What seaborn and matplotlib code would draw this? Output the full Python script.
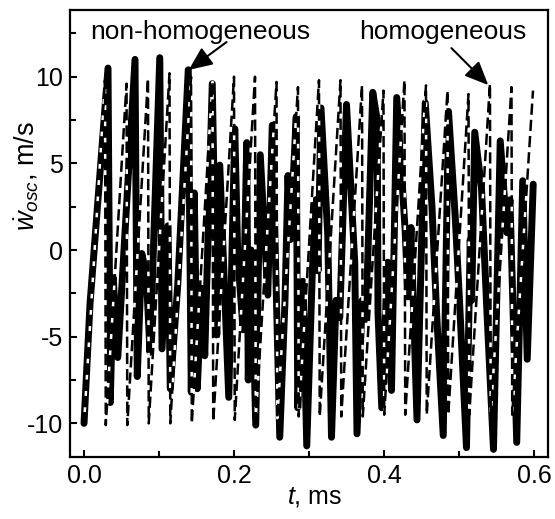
import numpy as np
import pandas as pd
import seaborn as sns
import matplotlib
matplotlib.use("Agg")
import matplotlib.pyplot as plt

# ---------------- data ----------------
# non-homogeneous (solid, thick)
nonhom_t = [0.000, 0.008, 0.032, 0.035, 0.039, 0.045, 0.068, 0.071, 0.077, 0.083,
            0.088, 0.101, 0.104, 0.112, 0.115, 0.125, 0.139, 0.143, 0.147, 0.151,
            0.157, 0.161, 0.171, 0.177, 0.181, 0.193, 0.201, 0.205, 0.212, 0.217,
            0.219, 0.223, 0.229, 0.235, 0.245, 0.251, 0.261, 0.268, 0.272, 0.275,
            0.283, 0.285, 0.292, 0.297, 0.305, 0.309, 0.312, 0.316, 0.325, 0.330,
            0.336, 0.341, 0.350, 0.361, 0.364, 0.371, 0.376, 0.385, 0.391, 0.392,
            0.397, 0.405, 0.410, 0.417, 0.428, 0.432, 0.436, 0.444, 0.455, 0.464,
            0.470, 0.479, 0.486, 0.495, 0.501, 0.510, 0.515, 0.517, 0.521, 0.530,
            0.537, 0.546, 0.555, 0.564, 0.568, 0.577, 0.585, 0.591, 0.599]
nonhom_v = [-10.0, -3.1, 10.5, -8.8, -1.6, -6.2, 11.0, -7.3, -0.2, -1.4,
            -5.9, 11.1, -5.7, 1.4, -8.0, -2.0, 10.4, -8.2, 3.3, -8.0,
            -2.2, -6.1, 9.6, -4.9, 4.9, -8.5, 7.0, -0.3, -4.6, 6.2,
            -7.5, 0.0, -10.1, 5.5, -2.6, 7.2, -10.8, -2.9, 4.3, 0.6,
            7.7, -9.1, -1.8, -11.3, -0.5, 2.9, -1.2, 8.2, 0.9, -10.8,
            -2.9, -3.9, 8.4, -0.7, -10.6, -2.9, -4.0, 9.1, 7.5, -3.6,
            -9.1, -0.7, -8.1, 8.8, 1.3, -2.7, 1.3, -9.8, 8.5, 2.5,
            -3.5, -10.7, 8.0, 1.9, -3.2, -11.4, 0.6, -2.9, 6.8, 3.6,
            -3.3, -11.5, 6.3, 1.0, 2.9, -11.1, 4.0, -6.3, 3.8]

# homogeneous (dashed, saw-tooth)
hom_t = [0.000, 0.028, 0.029, 0.0567, 0.0577, 0.0853, 0.0863, 0.114, 0.115,
         0.1427, 0.1437, 0.1713, 0.1723, 0.200, 0.201, 0.228, 0.229, 0.2567,
         0.2577, 0.2853, 0.2863, 0.3133, 0.3143, 0.342, 0.343, 0.3707, 0.3717,
         0.3993, 0.4003, 0.4273, 0.4283, 0.456, 0.457, 0.4847, 0.4857, 0.5127,
         0.5137, 0.5413, 0.5423, 0.570, 0.571, 0.5987]
hom_v = [-10.0, 9.8, -10.1, 9.6, -10.1, 9.9, -10.0, 10.2, -10.0,
         10.0, -10.0, 9.7, -9.9, 10.0, -9.8, 10.0, -9.7, 9.7,
         -9.7, 9.4, -9.6, 9.8, -9.6, 9.8, -9.6, 9.5, -9.6,
         9.2, -9.5, 9.8, -9.5, 9.5, -9.5, 9.2, -9.5, 9.0,
         -9.5, 9.6, -9.5, 9.4, -9.5, 9.2]

x_ticks = [0.0, 0.2, 0.4, 0.6]
x_ticklabels = ["0.0", "0.2", "0.4", "0.6"]
y_ticks = [-10, -5, 0, 5, 10]
y_ticklabels = ["-10", "-5", "0", "5", "10"]

# ---------------- style ----------------
sns.set_theme(style="ticks")
plt.rcParams["font.family"] = ["Liberation Sans", "DejaVu Sans"]
plt.rcParams["mathtext.fontset"] = "custom"
plt.rcParams["mathtext.rm"] = "Liberation Sans"
plt.rcParams["mathtext.it"] = "Liberation Sans:italic"
plt.rcParams["axes.unicode_minus"] = False
plt.rcParams["text.color"] = "black"

FS = 18

fig = plt.figure(figsize=(5.55, 5.19), dpi=100)
ax = fig.add_axes([70 / 555, 1 - 457 / 519, 478 / 555, 447 / 519])

df_n = pd.DataFrame({"t": nonhom_t, "v": nonhom_v})
df_h = pd.DataFrame({"t": hom_t, "v": hom_v})

sns.lineplot(data=df_n, x="t", y="v", sort=False, estimator=None, ax=ax,
             color="black", lw=5.0, solid_joinstyle="round", solid_capstyle="round")
sns.lineplot(data=df_h, x="t", y="v", sort=False, estimator=None, ax=ax,
             color="black", lw=1.8, linestyle=(0, (4.5, 2)), gapcolor="white")

ax.set_xlim(-0.0187, 0.6187)
ax.set_ylim(-11.94, 13.85)

ax.set_xticks(x_ticks)
ax.set_xticklabels(x_ticklabels)
ax.set_xticks([0.1, 0.3, 0.5], minor=True)
ax.set_yticks(y_ticks)
ax.set_yticklabels(y_ticklabels)
ax.set_yticks([-7.5, -2.5, 2.5, 7.5, 12.5], minor=True)

ax.tick_params(which="both", direction="in", width=1.5, colors="black",
               labelsize=FS, top=False, right=False)
ax.tick_params(which="major", length=5)
ax.tick_params(which="minor", length=4)
ax.tick_params(axis="x", pad=5)
ax.tick_params(axis="y", pad=5)

for s in ax.spines.values():
    s.set_visible(True)
    s.set_linewidth(1.6)
    s.set_color("black")

ax.set_xlabel("")
ax.set_ylabel("")
fig.text(315 / 555, 1 - 497 / 519, r"$t$, ms", ha="center", va="center", fontsize=FS)
fig.text(27 / 555, 1 - 176 / 519, r"$\dot{w}_{osc}$, m/s", ha="center", va="center",
         rotation=90, fontsize=19.5)

# annotations
ax.text(0.1547, 12.58, "non-homogeneous", ha="center", va="center", fontsize=19)
ax.text(0.4787, 12.58, "homogeneous", ha="center", va="center", fontsize=19)
arrow = dict(arrowstyle="-|>,head_length=0.8,head_width=0.35", color="black",
             lw=1.5, mutation_scale=18, shrinkA=0, shrinkB=0)
ax.annotate("", xy=(0.1396, 10.39), xytext=(0.190, 12.0), arrowprops=arrow)
ax.annotate("", xy=(0.539, 9.52), xytext=(0.490, 11.65), arrowprops=arrow)

fig.savefig("out.png", dpi=100)
